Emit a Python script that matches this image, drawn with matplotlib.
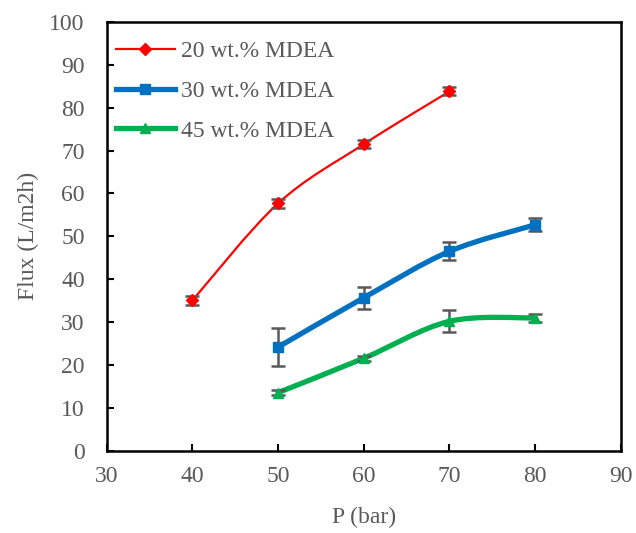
import numpy as np
import matplotlib.pyplot as plt
from matplotlib.path import Path
from matplotlib.patches import PathPatch
from matplotlib.lines import Line2D

# data
p_20 = [40, 50, 60, 70]
flux_20 = [35.1, 57.7, 71.5, 83.8]
err_20 = [1.0, 1.0, 0.9, 0.9]

p_30 = [50, 60, 70, 80]
flux_30 = [24.2, 35.7, 46.5, 52.7]
err_30 = [4.5, 2.6, 2.1, 1.5]

p_45 = [50, 60, 70, 80]
flux_45 = [13.6, 21.6, 30.2, 31.0]
err_45 = [0.5, 0.6, 2.6, 1.0]

labels = ['20 wt.% MDEA', '30 wt.% MDEA', '45 wt.% MDEA']
colors = ['#ff0000', '#0070c0', '#00b050']
markers = ['D', 's', '^']
widths = [1.6, 3.8, 3.8]
msizes = [6, 7, 7]

gray = '#595959'
plt.rcParams['font.family'] = ['Liberation Serif', 'DejaVu Serif']
fs = 17


def smooth_path(x, y):
    # excel-like smoothed line: cubic bezier segments with catmull-rom tangents
    x = np.asarray(x, float)
    y = np.asarray(y, float)
    verts = [(x[0], y[0])]
    codes = [Path.MOVETO]
    n = len(x)
    for i in range(n - 1):
        i0 = max(i - 1, 0)
        i3 = min(i + 2, n - 1)
        c1 = (x[i] + (x[i + 1] - x[i0]) / 6, y[i] + (y[i + 1] - y[i0]) / 6)
        c2 = (x[i + 1] - (x[i3] - x[i]) / 6, y[i + 1] - (y[i3] - y[i]) / 6)
        verts += [c1, c2, (x[i + 1], y[i + 1])]
        codes += [Path.CURVE4, Path.CURVE4, Path.CURVE4]
    return Path(verts, codes)


fig = plt.figure(figsize=(6.36, 5.33), dpi=100)
ax = fig.add_axes([0.168, 0.154, 0.808, 0.805])

series = [(p_20, flux_20, err_20), (p_30, flux_30, err_30), (p_45, flux_45, err_45)]
handles = []
for (xs, ys, es), lab, c, m, lw, ms in zip(series, labels, colors, markers, widths, msizes):
    ax.add_patch(PathPatch(smooth_path(xs, ys), facecolor='none', edgecolor=c,
                           lw=lw, capstyle='round', joinstyle='round', zorder=2))
    ax.errorbar(xs, ys, yerr=es, fmt='none', ecolor=gray, elinewidth=1.8,
                capsize=5, capthick=1.8, zorder=3)
    ax.plot(xs, ys, ls='none', marker=m, color=c, ms=ms, zorder=4)
    handles.append(Line2D([], [], color=c, lw=lw, marker=m, ms=ms, label=lab))

ax.set_xlim(30, 90)
ax.set_ylim(0, 100)
ax.set_xticks(range(30, 91, 10))
ax.set_yticks(range(0, 101, 10))
ax.tick_params(direction='in', length=5, width=1.5, color='black',
               labelcolor=gray, labelsize=fs)
ax.tick_params(axis='x', pad=11)
ax.tick_params(axis='y', pad=16)
for s in ax.spines.values():
    s.set_linewidth(1.8)
    s.set_color('black')

ax.set_xlabel('P (bar)', fontsize=fs, color=gray, labelpad=14)
ax.set_ylabel('Flux (L/m2h)', fontsize=fs, color=gray, labelpad=7)

leg = ax.legend(handles=handles, loc='upper left', frameon=False, fontsize=fs,
                handlelength=2.5, labelspacing=0.78, handletextpad=0.25,
                borderaxespad=0.2, bbox_to_anchor=(-0.01, 0.99))
for t in leg.get_texts():
    t.set_color(gray)

fig.savefig('out.png', dpi=100)
